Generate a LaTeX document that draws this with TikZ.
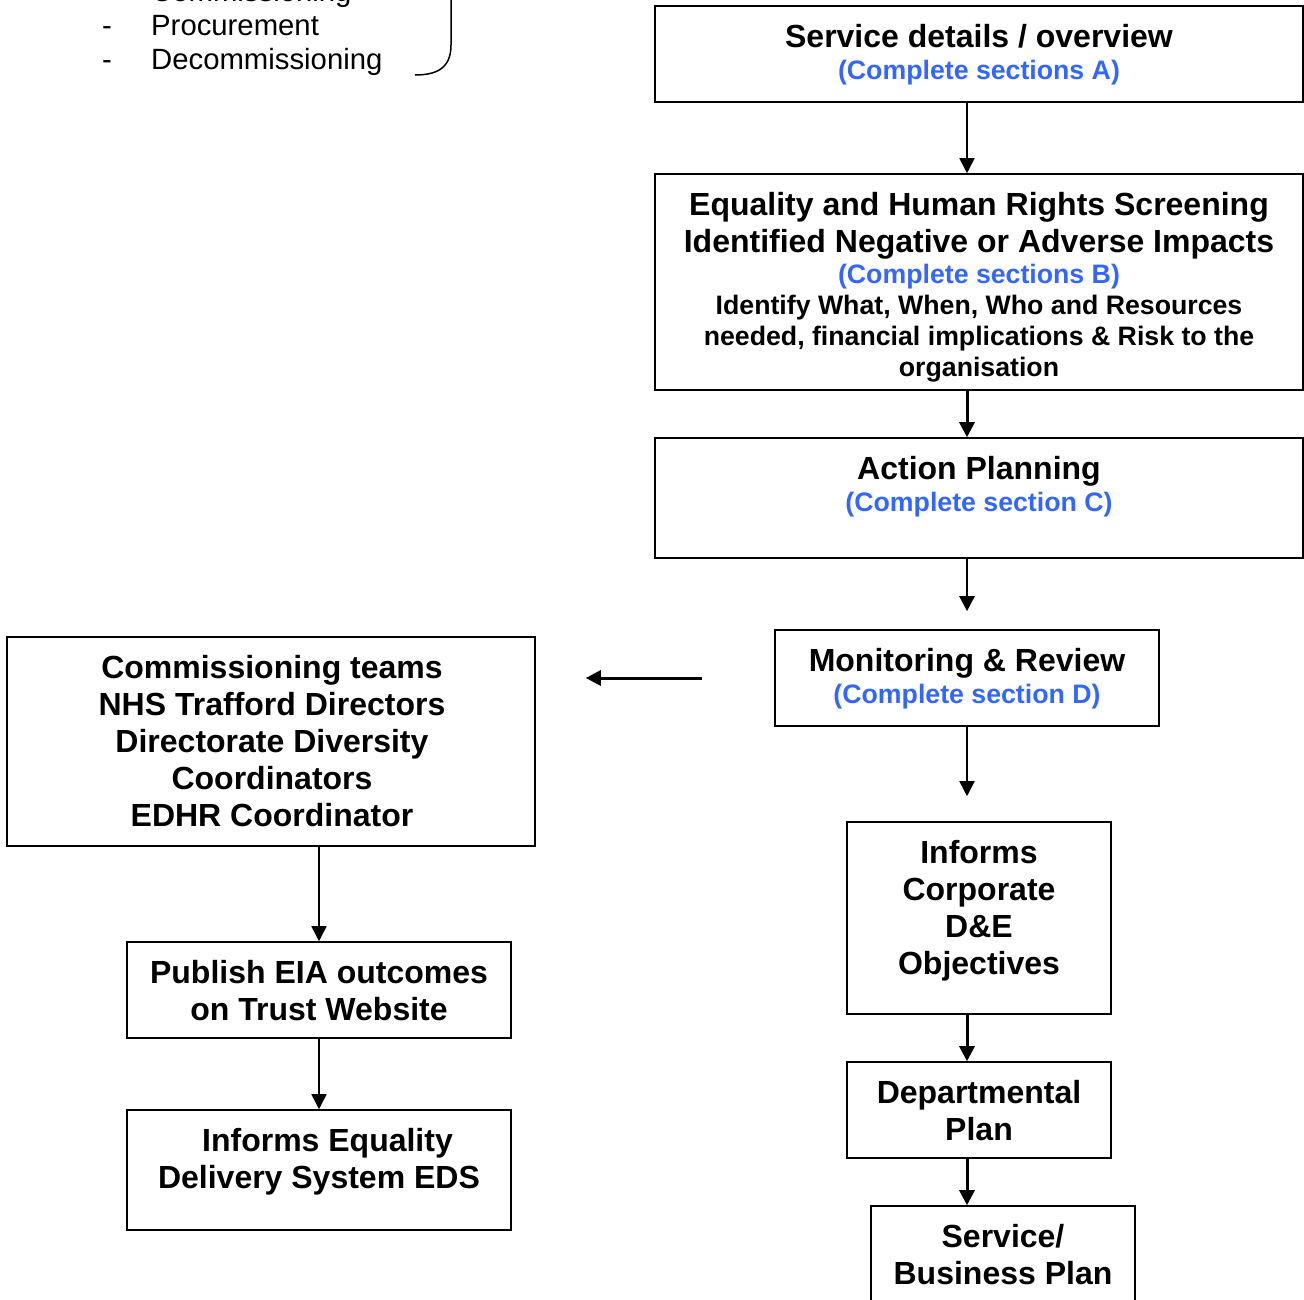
\documentclass[tikz,border=0pt]{standalone}
\usepackage{fontspec}
\setmainfont{Liberation Sans}
\usetikzlibrary{arrows.meta}
\definecolor{secblue}{RGB}{51,102,255}
\begin{document}
\begin{tikzpicture}[x=1pt,y=-1pt,
  box/.style={draw, line width=1.6pt, inner sep=0pt, minimum width=#1},
  big/.style={font=\fontsize{32}{37}\selectfont\bfseries, align=center, inner sep=0pt, anchor=north},
  small/.style={font=\fontsize{26.7}{30.7}\selectfont\bfseries, align=center, inner sep=0pt, anchor=north},
  blue/.style={small, text=secblue},
  listtxt/.style={font=\fontsize{29.3}{33.7}\selectfont, inner sep=0pt, anchor=base west},
  dashtxt/.style={font=\fontsize{29.3}{33.7}\selectfont, inner sep=0pt, anchor=base},
  arr/.style={-{Triangle[length=15pt,width=15pt]}, line width=#1},
  arr/.default=2pt
]
\useasboundingbox (0,0) rectangle (1304,1300);
\clip (0,0) rectangle (1304,1300);

% top-left list
\node[dashtxt] (d1) at (107,2) {-};
\node[dashtxt] (d2) at (107,36) {-};
\node[dashtxt] (d3) at (107,70) {-};
\node[listtxt] (l1) at (151,2) {Commissioning};
\node[listtxt] (l2) at (151,36) {Procurement};
\node[listtxt] (l3) at (151,70) {Decommissioning};
\draw[line width=1.5pt] (451,-10) -- (451,45) .. controls (451,68) and (437,75) .. (415,75);

% right column boxes
\node[box=648pt, minimum height=96pt]  (bA) at (979,54) {};
\node[box=648pt, minimum height=216pt] (bB) at (979,282) {};
\node[box=648pt, minimum height=120pt] (bC) at (979,498) {};
\node[box=384pt, minimum height=96pt]  (bD) at (967,678) {};
\node[box=264pt, minimum height=192pt] (bE) at (979,918) {};
\node[box=264pt, minimum height=96pt]  (bF) at (979,1110) {};
\node[box=264pt, minimum height=130pt] (bG) at (1003,1271) {};

% left column boxes
\node[box=528pt, minimum height=209pt] (bH) at (271,741.5) {};
\node[box=384pt, minimum height=96pt]  (bI) at (319,990) {};
\node[box=384pt, minimum height=120pt] (bJ) at (319,1170) {};

% texts
\node[big]  (tA1) at (979,24.2) {Service details / overview};
\node[blue] (tA2) at (979,60.1) {(Complete sections A)};
\node[big]  (tB1) at (979,192.2) {Equality and Human Rights Screening\\Identified Negative or Adverse Impacts};
\node[blue] (tB2) at (979,264.1) {(Complete sections B)};
\node[small] (tB3) at (979,295.1) {Identify What, When, Who and Resources\\needed, financial implications \& Risk to the\\organisation};
\node[big]  (tC1) at (979,456.2) {Action Planning};
\node[blue] (tC2) at (979,492.1) {(Complete section C)};
\node[big]  (tD1) at (967,648.2) {Monitoring \& Review};
\node[blue] (tD2) at (967,684.1) {(Complete section D)};
\node[big]  (tE) at (979,840.2) {Informs\\Corporate\\D\&E\\Objectives};
\node[big]  (tF) at (979,1080.2) {Departmental\\Plan};
\node[big]  (tG) at (1003,1224.2) {Service/\\Business Plan};
\node[big]  (tH) at (272,655.2) {Commissioning teams\\NHS Trafford Directors\\Directorate Diversity\\Coordinators\\EDHR Coordinator};
\node[big]  (tI) at (319,960.2) {Publish EIA outcomes\\on Trust Website};
\node[big]  (tJ) at (319,1128.2) {\hspace*{17pt}Informs Equality\\Delivery System EDS};

% connectors
\coordinate (ax) at (967,0);
\draw[arr=1.8pt] (bA.south -| ax) -- (bB.north -| ax);
\draw[arr=3pt] (bB.south -| ax) -- (bC.north -| ax);
\draw[arr=2.6pt, shorten >=18pt] (bC.south -| ax) -- (bD.north -| ax);
\draw[arr=1.8pt, shorten >=25pt] (bD.south -| ax) -- (bE.north -| ax);
\draw[arr=3pt] (bE.south -| ax) -- (bF.north -| ax);
\draw[arr=3pt] (bF.south -| ax) -- (bG.north -| ax);
\draw[arr=3pt, shorten <=72pt, shorten >=50pt] (bD.west) -- (bD.west -| bH.east);
\draw[arr=1.6pt] (bH.south -| bI.north) -- (bI.north);
\draw[arr=1.6pt] (bI.south) -- (bJ.north);
\end{tikzpicture}
\end{document}
